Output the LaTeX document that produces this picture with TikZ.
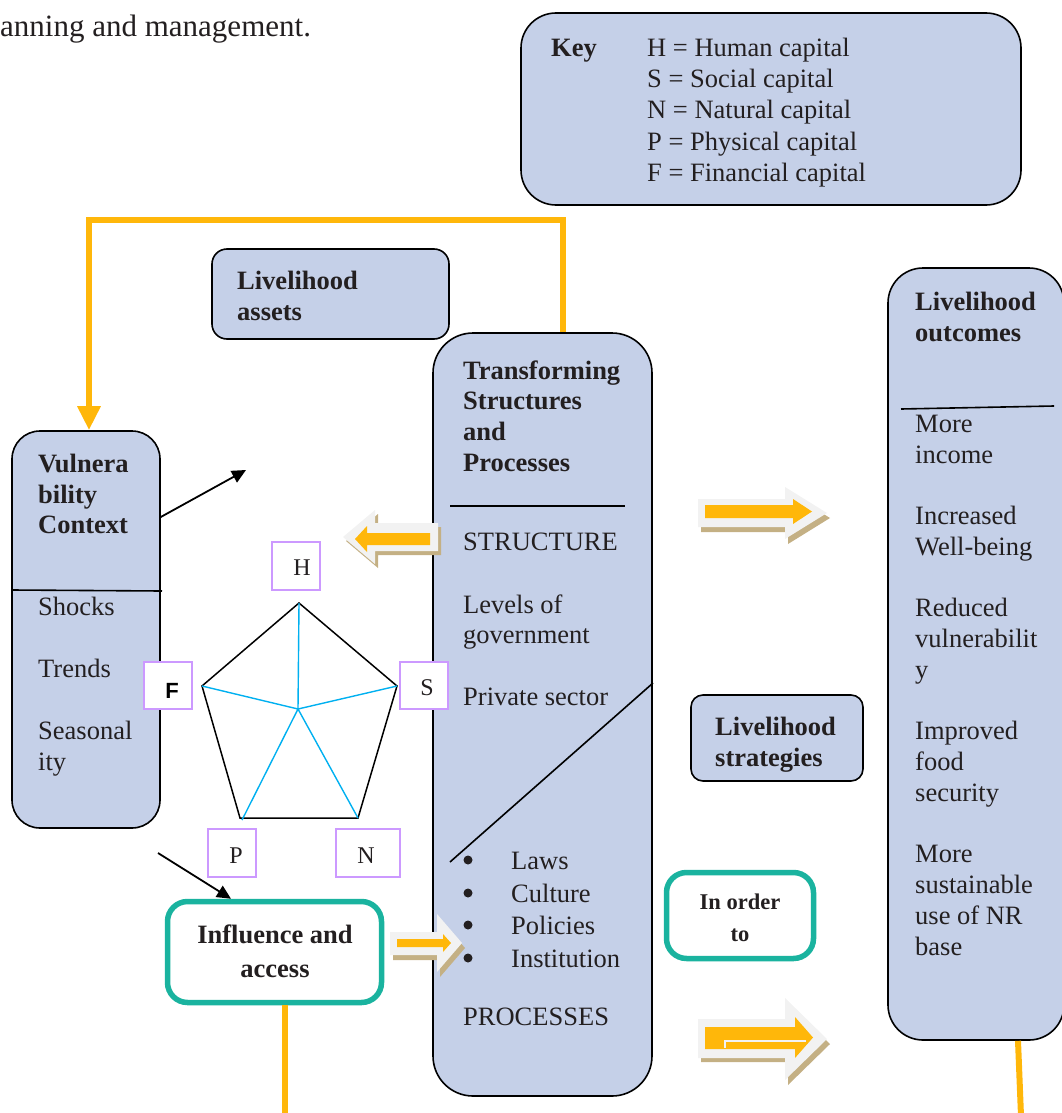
\documentclass[tikz,border=0pt]{standalone}
\usepackage{fontspec}
\setmainfont{Liberation Serif}
\newfontfamily\sansfam{Liberation Sans}
\usetikzlibrary{arrows.meta}
\definecolor{boxblue}{RGB}{197,208,232}
\definecolor{lineor}{RGB}{255,183,10}
\definecolor{tealc}{RGB}{26,179,159}
\definecolor{purp}{RGB}{204,153,255}
\definecolor{spokec}{RGB}{0,176,240}
\definecolor{shadowc}{RGB}{196,176,132}
\definecolor{arrgray}{RGB}{242,242,242}
\definecolor{inkc}{RGB}{35,31,32}
\begin{document}
\begin{tikzpicture}[x=1pt,y=-1pt,
  bluebox/.style={draw=black, line width=1.6pt, fill=boxblue, rounded corners=#1, inner sep=0pt},
  tealbox/.style={draw=tealc, line width=5.5pt, fill=white, rounded corners=#1, inner sep=0pt},
  lbl/.style={draw=purp, line width=1.2pt, fill=white, inner sep=0pt},
  txt/.style={anchor=base west, inner sep=0pt, text=inkc, font=\fontsize{26.5}{31}\selectfont},
  btxt/.style={anchor=base west, inner sep=0pt, text=inkc, font=\fontsize{26.5}{31}\selectfont\bfseries},
  ctxt/.style={anchor=base, inner sep=0pt, text=inkc, font=\fontsize{26.5}{31}\selectfont\bfseries},
  bul/.style={circle, fill=inkc, minimum size=9pt, inner sep=0pt},
  orline/.style={draw=lineor, line width=6pt},
  blk/.style={draw=black, line width=1.8pt, -{Triangle[length=14pt,width=13pt]}},
  divline/.style={draw=black, line width=1.6pt},
  shadowfill/.style={fill=shadowc},
  grayfill/.style={fill=arrgray},
  orfill/.style={fill=lineor}
]
\useasboundingbox (0,0) rectangle (1061,1113);

% top text
\node[txt, font=\fontsize{31}{36}\selectfont] (toptext) at (0,37) {anning and management.};

% Key box
\node[bluebox=35pt, minimum width=500pt, minimum height=192pt] (key) at (771,109) {};
\node[btxt] (keyk) at (551,57) {Key};
\node[txt] (k1) at (647,57) {H = Human capital};
\node[txt] (k2) at (647,88) {S = Social capital};
\node[txt] (k3) at (647,119) {N = Natural capital};
\node[txt] (k4) at (647,150) {P = Physical capital};
\node[txt] (k5) at (647,181) {F = Financial capital};

% Livelihood assets
\node[bluebox=15pt, minimum width=237pt, minimum height=90pt] (assets) at (330.5,294) {};
\node[btxt] (as1) at (237,289) {Livelihood};
\node[btxt] (as2) at (237,320) {assets};

% Transforming structures box
\node[bluebox=40pt, minimum width=219pt, minimum height=763pt] (tsp) at (542.5,714.5) {};
\node[btxt] (t1) at (463,379) {Transforming};
\node[btxt] (t2) at (463,409) {Structures};
\node[btxt] (t3) at (463,440) {and};
\node[btxt] (t4) at (463,471) {Processes};
\draw[divline] (450,506) -- (625,506);
\node[txt] (t5) at (463,550) {STRUCTURE};
\node[txt] (t6) at (463,613) {Levels of};
\node[txt] (t7) at (463,643) {government};
\node[txt] (t8) at (463,705) {Private sector};
\draw[divline] (450,862) -- (653,683);
\node[bul] (b1) at (468,860) {};
\node[txt] (l1) at (511,869) {Laws};
\node[bul] (b2) at (468,893) {};
\node[txt] (l2) at (511,902) {Culture};
\node[bul] (b3) at (468,925) {};
\node[txt] (l3) at (511,934) {Policies};
\node[bul] (b4) at (468,958) {};
\node[txt] (l4) at (511,967) {Institution};
\node[txt] (t9) at (463,1025) {PROCESSES};

% Vulnerability context
\node[bluebox=28pt, minimum width=148pt, minimum height=397pt] (vul) at (86,629.5) {};
\node[btxt] (v1) at (38,472) {Vulnera};
\node[btxt] (v2) at (38,503) {bility};
\node[btxt] (v3) at (38,533) {Context};
\draw[divline] (12,590) -- (162,591);
\node[txt] (v4) at (38,615) {Shocks};
\node[txt] (v5) at (38,677) {Trends};
\node[txt] (v6) at (38,739) {Seasonal};
\node[txt] (v7) at (38,770) {ity};

% Livelihood outcomes
\node[bluebox=35pt, minimum width=176pt, minimum height=772pt] (out) at (976,654) {};
\node[btxt] (o1) at (915,310) {Livelihood};
\node[btxt] (o2) at (915,341) {outcomes};
\draw[divline] (901,409) -- (1054,406);
\node[txt] (o3) at (915,432) {More};
\node[txt] (o4) at (915,463) {income};
\node[txt] (o5) at (915,524) {Increased};
\node[txt] (o6) at (915,555) {Well-being};
\node[txt] (o7) at (915,616) {Reduced};
\node[txt] (o8) at (915,647) {vulnerabilit};
\node[txt] (o9) at (915,678) {y};
\node[txt] (o10) at (915,739) {Improved};
\node[txt] (o11) at (915,770) {food};
\node[txt] (o12) at (915,801) {security};
\node[txt] (o13) at (915,862) {More};
\node[txt] (o14) at (915,893) {sustainable};
\node[txt] (o15) at (915,924) {use of NR};
\node[txt] (o16) at (915,955) {base};

% Livelihood strategies
\node[bluebox=12pt, minimum width=172pt, minimum height=86pt] (strat) at (777,738) {};
\node[btxt] (s1) at (715,735) {Livelihood};
\node[btxt] (s2) at (715,766) {strategies};

% In order to
\node[tealbox=20pt, minimum width=147pt, minimum height=86pt] (order) at (740,915.5) {};
\node[ctxt, font=\fontsize{22.5}{31}\selectfont\bfseries] (or1) at (740,909) {In order};
\node[ctxt, font=\fontsize{22.5}{31}\selectfont\bfseries] (or2) at (740,941) {to};

% Influence and access
\node[tealbox=20pt, minimum width=214pt, minimum height=101pt] (infl) at (274.5,952) {};
\node[ctxt] (i1) at (275,943) {Influence and};
\node[ctxt] (i2) at (275,977) {access};

% Pentagon
\coordinate (pH) at (299,603);
\coordinate (pS) at (397,686);
\coordinate (pN) at (358,818);
\coordinate (pP) at (240,818);
\coordinate (pF) at (202,686);
\coordinate (pC) at (298,709);
\draw[black, line width=1.5pt, line join=miter] (pH) -- (pS) -- (pN) -- (pP) -- (pF) -- cycle;
\draw[spokec, line width=1.4pt] (pC) -- (pH) (pC) -- (pS) (pC) -- (pN) (pC) -- (242,820) (pC) -- (pF);

% capital label boxes
\node[lbl, minimum width=48pt, minimum height=48pt] (bH) at (296,566) {};
\node[lbl, minimum width=48pt, minimum height=47pt] (bS) at (424,685.5) {};
\node[lbl, minimum width=48pt, minimum height=47pt] (bF) at (168,685.5) {};
\node[lbl, minimum width=48pt, minimum height=48pt] (bP) at (232,853) {};
\node[lbl, minimum width=64pt, minimum height=48pt] (bN) at (368,853) {};
\node[inner sep=0pt, text=inkc, font=\fontsize{24}{28}\selectfont] (tH) at (302,568) {H};
\node[inner sep=0pt, text=inkc, font=\fontsize{24}{28}\selectfont] (tS) at (427,688) {S};
\node[inner sep=0pt, text=black, font=\sansfam\fontsize{22}{26}\selectfont\bfseries] (tF) at (172,691) {F};
\node[inner sep=0pt, text=inkc, font=\fontsize{24}{28}\selectfont] (tP) at (236,856) {P};
\node[inner sep=0pt, text=inkc, font=\fontsize{24}{28}\selectfont] (tN) at (366,856) {N};

% orange feedback line
\draw[orline, -{Triangle[length=24pt,width=22pt]}] ([xshift=20.5pt]tsp.north) -- (563,220) -- (89,220) -- ([xshift=3pt]vul.north);
\draw[orline] (infl.south -| 285,0) -- (285,1116);
\draw[orline] ([xshift=42pt]out.south) -- (1021,1116);

% black arrows
\coordinate (a1end) at (246,470);
\coordinate (a2start) at (158,853);
\draw[blk] (vul.east |- 0,517) -- (a1end);
\draw[blk] (a2start) -- (infl.north -| 231,0);

% block arrows: left (towards assets)
\fill[shadowfill] (441,527) -- (378,527) -- (378,514) -- (346,541) -- (378,568) -- (378,555) -- (441,555) -- cycle;
\fill[grayfill] (438,523) -- (375,523) -- (375,510) -- (343,537) -- (375,564) -- (375,551) -- (438,551) -- cycle;
\fill[orfill] (430,533) -- (367,533) -- (367,526) -- (355,539) -- (367,552) -- (367,545) -- (430,545) -- cycle;

% block arrow: right top
\fill[shadowfill] (701,504) -- (788,504) -- (788,492) -- (830,518) -- (788,544) -- (788,532) -- (701,532) -- cycle;
\fill[grayfill] (698,499) -- (785,499) -- (785,487) -- (827,513) -- (785,539) -- (785,527) -- (698,527) -- cycle;
\fill[orfill] (705,505) -- (793,505) -- (793,499) -- (812,511.5) -- (793,524) -- (793,518) -- (705,518) -- cycle;

% block arrow: small (influence -> structures)
\fill[shadowfill] (393,937) -- (440,937) -- (440,919) -- (465,948) -- (440,977) -- (440,960) -- (393,960) -- cycle;
\fill[grayfill] (390,932) -- (437,932) -- (437,914) -- (462,943) -- (437,972) -- (437,955) -- (390,955) -- cycle;
\fill[orfill] (397,939) -- (443,939) -- (443,934) -- (451,943) -- (443,952) -- (443,947) -- (397,947) -- cycle;

% block arrow: big bottom
\fill[shadowfill] (701,1023) -- (788,1023) -- (788,1003) -- (830,1044) -- (788,1085) -- (788,1062) -- (701,1062) -- cycle;
\fill[grayfill] (698,1019) -- (785,1019) -- (785,998) -- (827,1039) -- (785,1080) -- (785,1058) -- (698,1058) -- cycle;
\fill[orfill] (705,1027) -- (795,1027) -- (795,1017) -- (813,1037.5) -- (795,1058) -- (795,1049) -- (705,1049) -- cycle;
\draw[arrgray, line width=2pt] (725,1048) -- (725,1041) -- (806,1041);
\end{tikzpicture}
\end{document}
